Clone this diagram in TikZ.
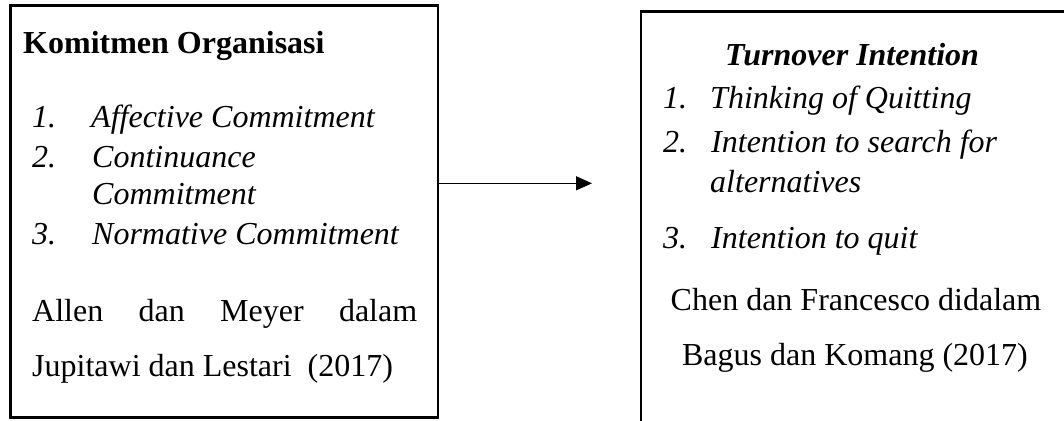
\documentclass[tikz,border=0pt]{standalone}
\usepackage{fontspec}
\setmainfont{Liberation Serif}
\usetikzlibrary{arrows.meta}
\begin{document}
\begin{tikzpicture}[x=1pt,y=-1pt,
  frame/.style={draw=black, line width=2.6pt, inner sep=0pt, fill=none},
  txt/.style={anchor=base west, inner sep=0pt, font=\fontsize{32}{38}\selectfont},
  ctxt/.style={anchor=base, inner sep=0pt, font=\fontsize{32}{38}\selectfont},
  arr/.style={line width=1.3pt, -{Triangle[length=16pt,width=14pt]}}]
\clip (0,0) rectangle (1064,420);
\fill[white] (0,0) rectangle (1064,420);

% boxes
\node[frame, minimum width=427.5pt, minimum height=412pt] (lbox) at (224.25,211.5) {};
\node[frame, minimum width=429pt, minimum height=414pt] (rbox) at (855.5,218.5) {};

% left box: independent variable
\node[txt, font=\fontsize{32}{38}\selectfont\bfseries] (ltitle) at (23,53) {Komitmen Organisasi};
\node[txt] (ln1) at (32,127) {\itshape 1.};
\node[txt] (li1) at (91,127) {\itshape Affective Commitment};
\node[txt] (ln2) at (32,167) {\itshape 2.};
\node[txt] (li2) at (92,167) {\itshape Continuance};
\node[txt] (li2b) at (92,204) {\itshape Commitment};
\node[txt] (ln3) at (32,244) {\itshape 3.};
\node[txt] (li3) at (92,244) {\itshape Normative Commitment};
\node[txt] (lsrc1) at (32,321) {\hbox to 385pt{Allen\hfill dan\hfill Meyer\hfill dalam}};
\node[txt] (lsrc2) at (32,376) {Jupitawi dan Lestari\ \ (2017)};

% right box: dependent variable
\node[ctxt, font=\fontsize{32}{38}\selectfont\bfseries\itshape] (rtitle) at (852,65) {Turnover Intention};
\node[txt] (rn1) at (663,108) {\itshape 1.};
\node[txt] (ri1) at (710,108) {\itshape Thinking of Quitting};
\node[txt] (rn2) at (663,152) {\itshape 2.};
\node[txt] (ri2) at (711,152) {\itshape Intention to search for};
\node[txt] (ri2b) at (710,192) {\itshape alternatives};
\node[txt] (rn3) at (663,248) {\itshape 3.};
\node[txt] (ri3) at (711,248) {\itshape Intention to quit};
\node[ctxt] (rsrc1) at (856,310) {Chen dan Francesco didalam};
\node[ctxt] (rsrc2) at (855,365) {Bagus dan Komang (2017)};

% connector
\coordinate (tip) at (592,183.3);
\draw[arr] (lbox.east |- tip) -- (tip);
\end{tikzpicture}
\end{document}
